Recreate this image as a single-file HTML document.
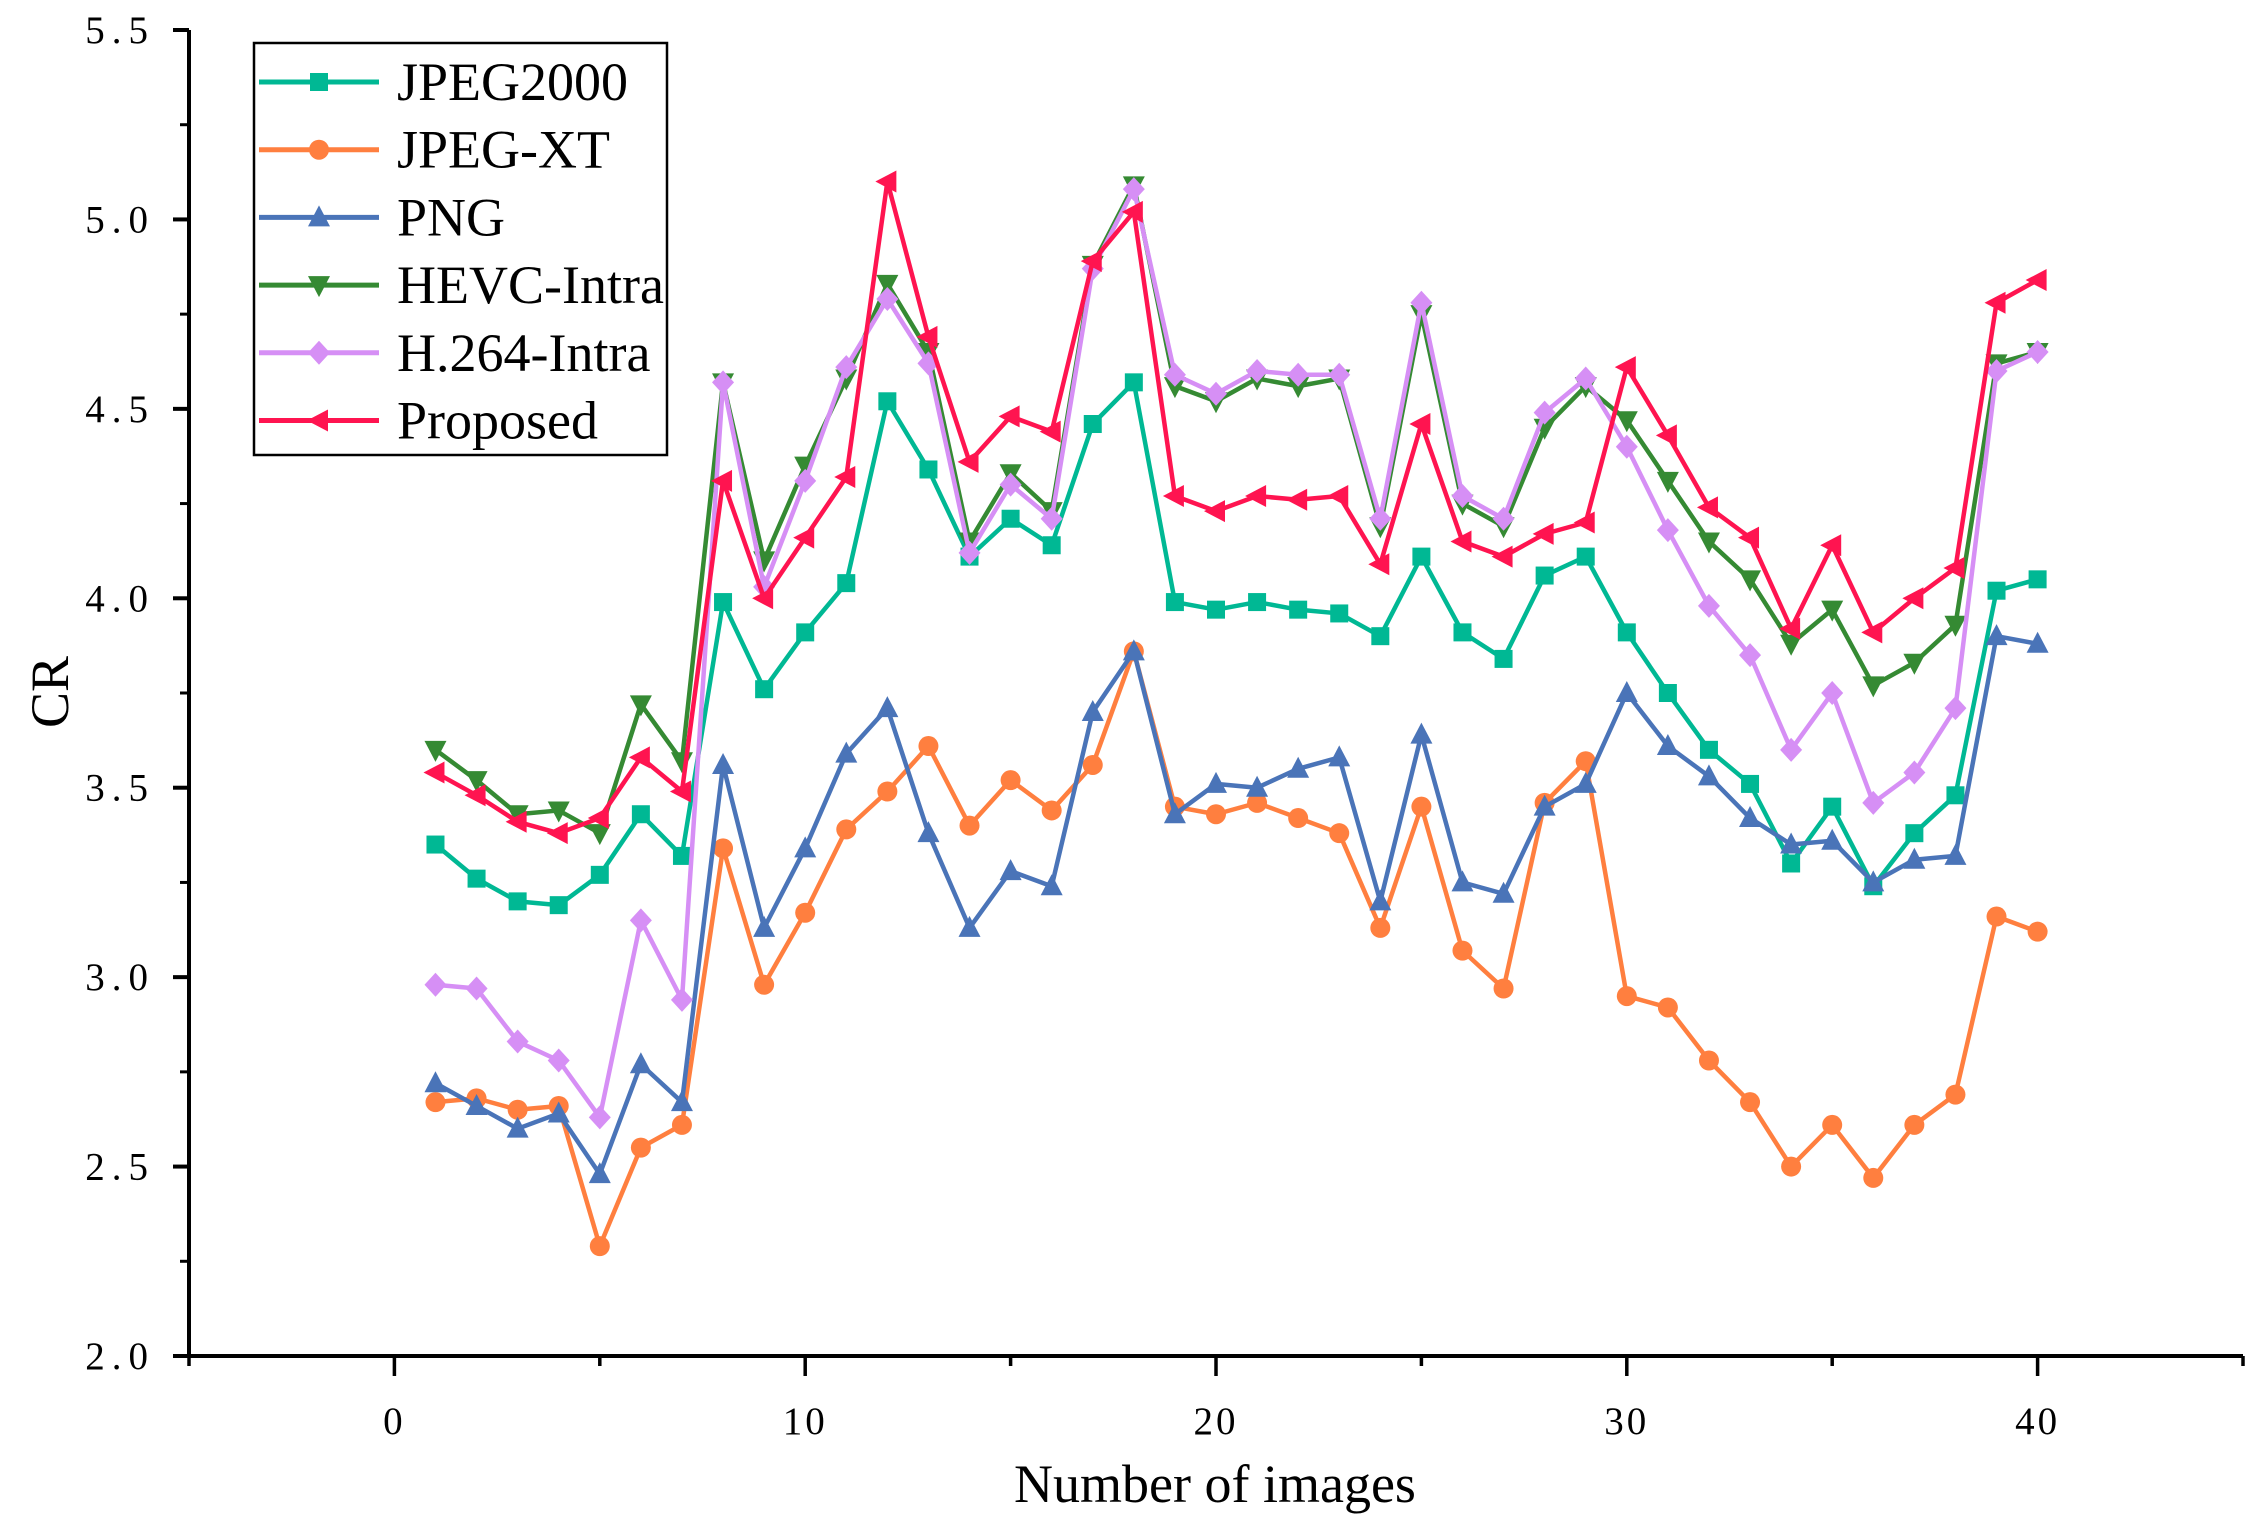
<!DOCTYPE html>
<html><head><meta charset="utf-8"><style>
html,body{margin:0;padding:0;background:#fff;}
svg{display:block;font-family:"Liberation Serif","Noto Serif CJK SC",serif;}
</style></head><body>
<svg id="chart" width="2260" height="1530" viewBox="0 0 2260 1530" xmlns="http://www.w3.org/2000/svg">
<g id="axes"></g>
<g id="series"></g>
<g id="legend"></g>
</svg>
<script>
const seriesNames = ["JPEG2000","JPEG-XT","PNG","HEVC-Intra","H.264-Intra","Proposed"];
const seriesColors = ["#00b894","#ff7f3f","#4a74b8","#358a33","#d68ff5","#ff1450"];
const seriesMarkers = ["square","circle","tri-up","tri-down","diamond","tri-left"];
const jpeg2000 = [3.35,3.26,3.20,3.19,3.27,3.43,3.32,3.99,3.76,3.91,4.04,4.52,4.34,4.11,4.21,4.14,4.46,4.57,3.99,3.97,3.99,3.97,3.96,3.90,4.11,3.91,3.84,4.06,4.11,3.91,3.75,3.60,3.51,3.30,3.45,3.24,3.38,3.48,4.02,4.05];
const jpegxt = [2.67,2.68,2.65,2.66,2.29,2.55,2.61,3.34,2.98,3.17,3.39,3.49,3.61,3.40,3.52,3.44,3.56,3.86,3.45,3.43,3.46,3.42,3.38,3.13,3.45,3.07,2.97,3.46,3.57,2.95,2.92,2.78,2.67,2.50,2.61,2.47,2.61,2.69,3.16,3.12];
const png = [2.72,2.66,2.60,2.64,2.48,2.77,2.67,3.56,3.13,3.34,3.59,3.71,3.38,3.13,3.28,3.24,3.70,3.86,3.43,3.51,3.50,3.55,3.58,3.20,3.64,3.25,3.22,3.45,3.51,3.75,3.61,3.53,3.42,3.35,3.36,3.25,3.31,3.32,3.90,3.88];
const hevc = [3.60,3.52,3.43,3.44,3.38,3.72,3.57,4.57,4.10,4.35,4.58,4.83,4.65,4.15,4.33,4.23,4.88,5.09,4.56,4.52,4.58,4.56,4.58,4.19,4.75,4.25,4.19,4.45,4.56,4.47,4.31,4.15,4.05,3.88,3.97,3.77,3.83,3.93,4.62,4.65];
const h264 = [2.98,2.97,2.83,2.78,2.63,3.15,2.94,4.57,4.03,4.31,4.61,4.79,4.62,4.12,4.30,4.21,4.87,5.08,4.59,4.54,4.60,4.59,4.59,4.21,4.78,4.27,4.21,4.49,4.58,4.40,4.18,3.98,3.85,3.60,3.75,3.46,3.54,3.71,4.60,4.65];
const proposed = [3.54,3.48,3.41,3.38,3.42,3.58,3.49,4.31,4.00,4.16,4.32,5.10,4.69,4.36,4.48,4.44,4.89,5.02,4.27,4.23,4.27,4.26,4.27,4.09,4.46,4.15,4.11,4.17,4.20,4.61,4.43,4.24,4.16,3.92,4.14,3.91,4.00,4.08,4.78,4.84];
const xTickLabels = ["0","10","20","30","40"];
const xTickValues = [0,10,20,30,40];
const yTickLabels = ["2.0","2.5","3.0","3.5","4.0","4.5","5.0","5.5"];
const yTickValues = [2.0,2.5,3.0,3.5,4.0,4.5,5.0,5.5];

const NS="http://www.w3.org/2000/svg";
const L=189,R=2243,T=30,B=1356;
const xMin=-5,xMax=45,yMin=2,yMax=5.5;
function sx(v){return L+(v-xMin)/(xMax-xMin)*(R-L);}
function sy(v){return B-(v-yMin)/(yMax-yMin)*(B-T);}
function mk(tag,attrs,parent){const e=document.createElementNS(NS,tag);for(const k in attrs)e.setAttribute(k,attrs[k]);parent.appendChild(e);return e;}
const axes=document.getElementById('axes');
let e;
e=mk('line',{x1:L,y1:T,x2:L,y2:B+2,stroke:'#000','stroke-width':4},axes);


e=mk('line',{x1:L-2,y1:B,x2:R,y2:B,stroke:'#000','stroke-width':4},axes);


for(let i=0;i<yTickValues.length;i++){
  const y=sy(yTickValues[i]);
  e=mk('line',{x1:L-16,y1:y,x2:L,y2:y,stroke:'#000','stroke-width':4},axes);
  
  
  e=mk('text',{x:155,y:y+13,'font-size':39,'text-anchor':'end','letter-spacing':'7'},axes);
  e.textContent=yTickLabels[i];
  
  
  if(i<yTickValues.length-1){
    const ym=sy(yTickValues[i]+0.25);
    e=mk('line',{x1:L-9,y1:ym,x2:L,y2:ym,stroke:'#000','stroke-width':3},axes);
    
    
  }
}
for(let v=-5;v<=45;v+=5){
  const x=sx(v);const major=(v%10===0);
  e=mk('line',{x1:x,y1:B,x2:x,y2:B+(major?20:10),stroke:'#000','stroke-width':3.5},axes);
  
  
}
for(let i=0;i<xTickValues.length;i++){
  e=mk('text',{x:sx(xTickValues[i]),y:1434,'font-size':39,'text-anchor':'middle','letter-spacing':'3'},axes);
  e.textContent=xTickLabels[i];
  
  
}
e=mk('text',{x:1215,y:1502,'font-size':54,'text-anchor':'middle'},axes);
e.textContent='Number of images';


e=mk('text',{x:0,y:0,'font-size':54,'text-anchor':'middle',transform:'translate(68,692) rotate(-90)'},axes);
e.textContent='CR';



function marker(type,x,y,color,parent){
  const s=9;let el;
  if(type==='square')el=mk('rect',{x:x-s,y:y-s,width:2*s,height:2*s,fill:color},parent);
  else if(type==='circle')el=mk('circle',{cx:x,cy:y,r:s+1,fill:color},parent);
  else if(type==='tri-up')el=mk('polygon',{points:`${x},${y-s-3} ${x+s+2},${y+s} ${x-s-2},${y+s}`,fill:color},parent);
  else if(type==='tri-down')el=mk('polygon',{points:`${x},${y+s+3} ${x+s+2},${y-s} ${x-s-2},${y-s}`,fill:color},parent);
  else if(type==='diamond')el=mk('polygon',{points:`${x},${y-s-3} ${x+s+2},${y} ${x},${y+s+3} ${x-s-2},${y}`,fill:color},parent);
  else el=mk('polygon',{points:`${x-s-3},${y} ${x+s},${y-s-2} ${x+s},${y+s+2}`,fill:color},parent);
  return el;
}
const allData=[jpeg2000,jpegxt,png,hevc,h264,proposed];
const sg=document.getElementById('series');
allData.forEach((d,si)=>{
  const g=mk('g',{},sg);
  
  
  const pts=d.map((v,i)=>sx(i+1)+','+sy(v)).join(' ');
  const pl=mk('polyline',{points:pts,fill:'none',stroke:seriesColors[si],'stroke-width':4.5,'stroke-linejoin':'round'},g);
  
  
  d.forEach((v,i)=>{
    const m=marker(seriesMarkers[si],sx(i+1),sy(v),seriesColors[si],g);
    
    
  });
});
const lg=document.getElementById('legend');
e=mk('rect',{x:254,y:43,width:413,height:412,fill:'#fff',stroke:'#000','stroke-width':2.5},lg);


seriesNames.forEach((n,i)=>{
  const y=82+i*67.7;
  const g=mk('g',{},lg);
  
  
  mk('line',{x1:259,y1:y,x2:379,y2:y,stroke:seriesColors[i],'stroke-width':5},g);
  marker(seriesMarkers[i],319,y,seriesColors[i],g);
  const t=mk('text',{x:397,y:y+18,'font-size':54},g);
  t.textContent=n;
});
</script>
</body></html>
